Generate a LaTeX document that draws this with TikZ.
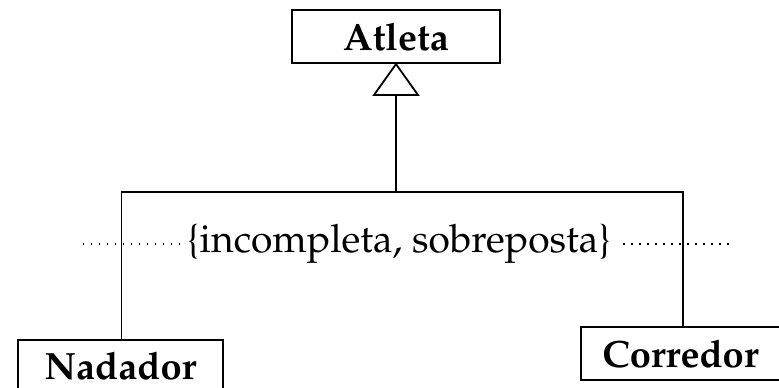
\documentclass[tikz,border=0pt]{standalone}
\IfFileExists{mathpazo.sty}{\usepackage[T1]{fontenc}\renewcommand{\rmdefault}{ppl}}{\usepackage{fontspec}\setmainfont{Liberation Serif}}
\begin{document}
\begin{tikzpicture}[x=1pt,y=1pt,
  cls/.style={draw,line width=2.2pt,inner sep=0pt,font=\fontsize{38}{42}\selectfont\bfseries},
  conn/.style={line width=1.8pt},
  dots/.style={line width=1.3pt,dash pattern=on 1.3pt off 6.7pt},
  lbl/.style={inner sep=0pt,font=\fontsize{39}{43}\selectfont}]
\useasboundingbox (0,0) rectangle (779,388);
\clip (0,0) rectangle (779,388);
\node[cls,minimum width=208pt,minimum height=53pt] (atleta) at (396,351.5) {Atleta};
\node[cls,minimum width=205pt,minimum height=52pt] (nadador) at (120.5,22) {Nadador};
\node[cls,minimum width=199pt,minimum height=53pt] (corredor) at (680.5,34.5) {Corredor};
\coordinate (tl) at (374,293);
\coordinate (tr) at (418,293);
\coordinate (tb) at (396,293);
\coordinate (j) at (396,196);
\coordinate (jl) at (121.5,196);
\coordinate (jr) at (683,196);
\node[lbl] (gs) at (399,144) {\{incompleta, sobreposta\}};
\coordinate (dl) at (83,144);
\coordinate (dr) at (731,144);
\draw[dots] (dl) -- ([xshift=-4pt]gs.west);
\draw[dots] ([xshift=12pt]gs.east) -- (dr);
\draw[conn,line join=miter] (atleta.south) -- (tl) -- (tr) -- cycle;
\draw[conn] (tb) -- (j);
\draw[conn] (jl |- nadador.north) -- (jl) -- (jr) -- (jr |- corredor.north);
\end{tikzpicture}
\end{document}
